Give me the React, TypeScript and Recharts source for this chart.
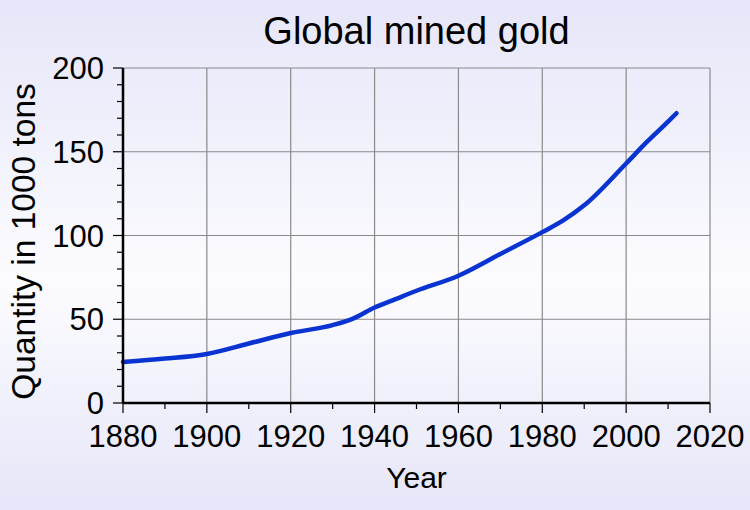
import React from 'react';
import { LineChart, Line, XAxis, YAxis, ReferenceLine, Label } from 'recharts';

// years and cumulative mined gold (thousand tonnes)
const years = [1880, 1890, 1900, 1910, 1920, 1930, 1935, 1940, 1945, 1950, 1960, 1970, 1980, 1985, 1990, 2000, 2005, 2010, 2012];
const gold = [24.5, 26.5, 29.3, 35.5, 41.8, 46.5, 50.5, 57, 62, 67, 76, 89, 102, 109, 118, 143, 156, 168, 173];

const xTicks = [1880, 1890, 1900, 1910, 1920, 1930, 1940, 1950, 1960, 1970, 1980, 1990, 2000, 2010, 2020];
const yTicks = [0, 10, 20, 30, 40, 50, 60, 70, 80, 90, 100, 110, 120, 130, 140, 150, 160, 170, 180, 190, 200];
const xGrid = [1900, 1920, 1940, 1960, 1980, 2000, 2020];
const yGrid = [50, 100, 150, 200];

const data = years.map((year, i) => ({ year, gold: gold[i] }));

const FONT = '"Liberation Sans", Arial, Helvetica, sans-serif';
const GRID = '#8a8a8a';

const XTick = (props: any) => {
  const { x, y, payload } = props;
  const major = payload.value % 20 === 0;
  return (
    <g>
      <line x1={x} x2={x} y1={y} y2={y + (major ? 10 : 6)} stroke="#000" strokeWidth={1.2} />
      {major && (
        <text x={x} y={y + 44} textAnchor="middle" fontSize={31} fontFamily={FONT} fill="#000">
          {payload.value}
        </text>
      )}
    </g>
  );
};

const YTick = (props: any) => {
  const { x, y, payload } = props;
  const major = payload.value % 50 === 0;
  return (
    <g>
      <line x1={x - (major ? 10 : 6)} x2={x} y1={y} y2={y} stroke="#000" strokeWidth={1.2} />
      {major && (
        <text x={x - 19} y={y + 11} textAnchor="end" fontSize={31} fontFamily={FONT} fill="#000">
          {payload.value}
        </text>
      )}
    </g>
  );
};

const YLabel = (props: any) => {
  const vb = props.viewBox;
  const cx = vb.x + 35;
  const cy = vb.y + vb.height / 2 + 6;
  return (
    <text x={cx} y={cy} transform={`rotate(-90 ${cx} ${cy})`} textAnchor="middle" fontSize={33.5} fontFamily={FONT} fill="#000">
      Quantity in 1000 tons
    </text>
  );
};

export default function App() {
  return (
    <div
      style={{
        position: 'absolute',
        left: 0,
        top: 0,
        width: 750,
        height: 510,
        background: 'linear-gradient(to bottom, #e6e6f9 0%, #fcfcff 55%, #e6e6f9 100%)',
        fontFamily: FONT,
      }}
    >
      <div
        style={{
          position: 'absolute',
          left: 123,
          width: 587,
          top: 12,
          lineHeight: '38px',
          fontSize: 38,
          textAlign: 'center',
          color: '#000',
        }}
      >
        Global mined gold
      </div>
      <LineChart width={750} height={510} data={data} margin={{ top: 68, right: 40, left: 0, bottom: 0 }}>
        {xGrid.map((v) => (
          <ReferenceLine key={`xg-${v}`} x={v} stroke={GRID} strokeWidth={1.2} />
        ))}
        {yGrid.map((v) => (
          <ReferenceLine key={`yg-${v}`} y={v} stroke={GRID} strokeWidth={1.2} />
        ))}
        <XAxis
          dataKey="year"
          type="number"
          domain={[1880, 2020]}
          ticks={xTicks}
          interval={0}
          height={107}
          tickSize={0}
          tickMargin={0}
          tickLine={false}
          tick={<XTick />}
          axisLine={{ stroke: '#000', strokeWidth: 2.5 }}
        >
          <Label value="Year" position="insideBottom" offset={22} fontSize={30} fontFamily={FONT} fill="#000" />
        </XAxis>
        <YAxis
          type="number"
          domain={[0, 200]}
          ticks={yTicks}
          interval={0}
          width={123}
          tickSize={0}
          tickMargin={0}
          tickLine={false}
          tick={<YTick />}
          axisLine={{ stroke: '#000', strokeWidth: 2.5 }}
        >
          <Label content={<YLabel />} />
        </YAxis>
        <Line
          type="monotone"
          dataKey="gold"
          stroke="#0a34d2"
          strokeWidth={4.5}
          strokeLinecap="round"
          dot={false}
          isAnimationActive={false}
        />
      </LineChart>
    </div>
  );
}
